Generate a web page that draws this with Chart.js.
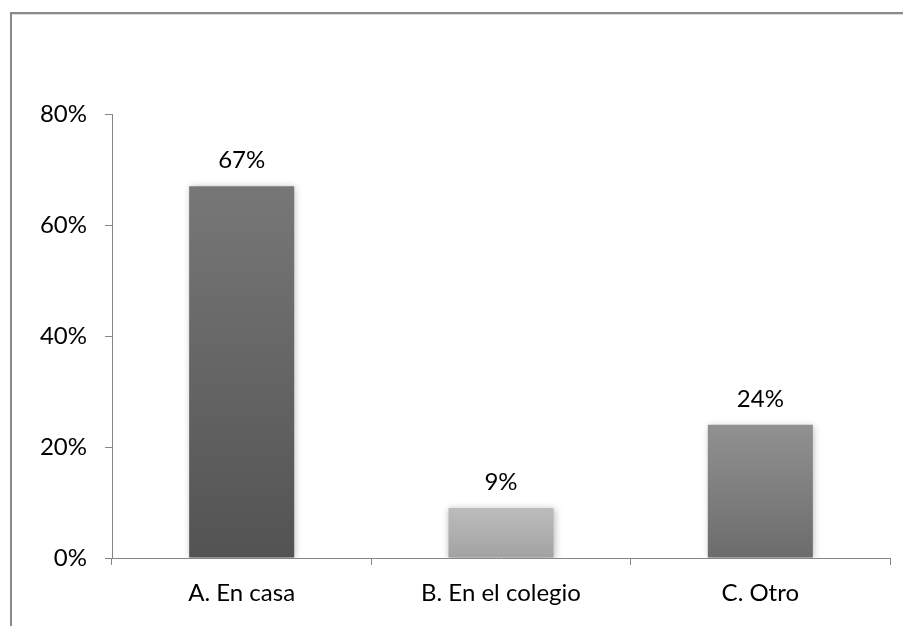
<!DOCTYPE html>
<html>
<head>
<meta charset="utf-8">
<script src="https://cdn.jsdelivr.net/npm/chart.js@4/dist/chart.umd.min.js"></script>
<style>
  body { margin: 0; background: #fff; }
  #wrap { position: relative; width: 903px; height: 626px; overflow: hidden; }
  #frame { position: absolute; left: 10px; top: 12px; width: 1000px; height: 700px;
           border-left: 2px solid #8a8a8a; border-top: 2px solid #8a8a8a; box-shadow: 0 1px 0 #dcdcdc inset; }
  canvas { position: absolute; left: 0; top: 0; }
</style>
</head>
<body>
<div id="wrap">
  <div id="frame"></div>
  <canvas id="grafico" width="903" height="626"></canvas>
</div>
<script>
const categorias = ["A. En casa", "B. En el colegio", "C. Otro"];
const porcentajes = [67, 9, 24];
const ticksY = [0, 20, 40, 60, 80];

// colores (arriba, abajo) de cada barra
const coloresArriba = ["#777777", "#bcbcbc", "#919191"];
const coloresAbajo = ["#535353", "#a2a2a2", "#6c6c6c"];

const FUENTE = "Lato, 'Open Sans', sans-serif";
const EJE = "#868686";

function degradado(ctx) {
  const chart = ctx.chart;
  const area = chart.chartArea;
  const escala = chart.scales.y;
  if (!area || !escala) return coloresArriba[ctx.dataIndex];
  const top = escala.getPixelForValue(porcentajes[ctx.dataIndex]);
  if (!isFinite(top) || !isFinite(area.bottom)) return coloresArriba[ctx.dataIndex];
  const g = chart.ctx.createLinearGradient(0, top, 0, area.bottom);
  g.addColorStop(0, coloresArriba[ctx.dataIndex]);
  g.addColorStop(1, coloresAbajo[ctx.dataIndex]);
  return g;
}

// sombra suave de las barras
const sombra = {
  id: "sombra",
  beforeDatasetDraw(chart) {
    const c = chart.ctx;
    c.save();
    c.shadowColor = "rgba(0,0,0,0.28)";
    c.shadowBlur = 7;
    c.shadowOffsetX = 1;
    c.shadowOffsetY = 1;
  },
  afterDatasetDraw(chart) {
    chart.ctx.restore();
  },
};

// etiquetas encima de cada barra
const etiquetas = {
  id: "etiquetas",
  afterDatasetsDraw(chart) {
    const c = chart.ctx;
    c.save();
    c.font = "24px " + FUENTE;
    c.fillStyle = "#000";
    c.textAlign = "center";
    c.textBaseline = "alphabetic";
    chart.getDatasetMeta(0).data.forEach((bar, i) => {
      c.fillText(porcentajes[i] + "%", bar.x, bar.y - 18);
    });
    c.restore();
  },
};

new Chart(document.getElementById("grafico"), {
  type: "bar",
  data: {
    labels: categorias,
    datasets: [{
      data: porcentajes,
      backgroundColor: degradado,
      borderWidth: 0,
      barPercentage: 0.405,
      categoryPercentage: 1,
    }],
  },
  options: {
    responsive: false,
    animation: false,
    layout: { padding: { top: 114, right: 13, bottom: 0, left: 0 } },
    plugins: { legend: { display: false }, tooltip: { enabled: false } },
    scales: {
      x: {
        afterFit: (s) => { s.height = 68; },
        grid: { display: true, drawOnChartArea: false, drawTicks: true, tickLength: 7, color: EJE, offset: true },
        border: { display: true, color: EJE, width: 1 },
        ticks: { color: "#000", font: { family: FUENTE, size: 24 }, padding: 14, maxRotation: 0 },
      },
      y: {
        min: ticksY[0],
        max: ticksY[ticksY.length - 1],
        afterFit: (s) => { s.width = 112; },
        afterBuildTicks: (s) => { s.ticks = ticksY.map((v) => ({ value: v })); },
        grid: { display: true, drawOnChartArea: false, drawTicks: true, tickLength: 7, color: EJE },
        border: { display: true, color: EJE, width: 1 },
        ticks: { color: "#000", font: { family: FUENTE, size: 24 }, padding: 18, callback: (v) => v + "%" },
      },
    },
  },
  plugins: [sombra, etiquetas],
});
</script>
</body>
</html>
